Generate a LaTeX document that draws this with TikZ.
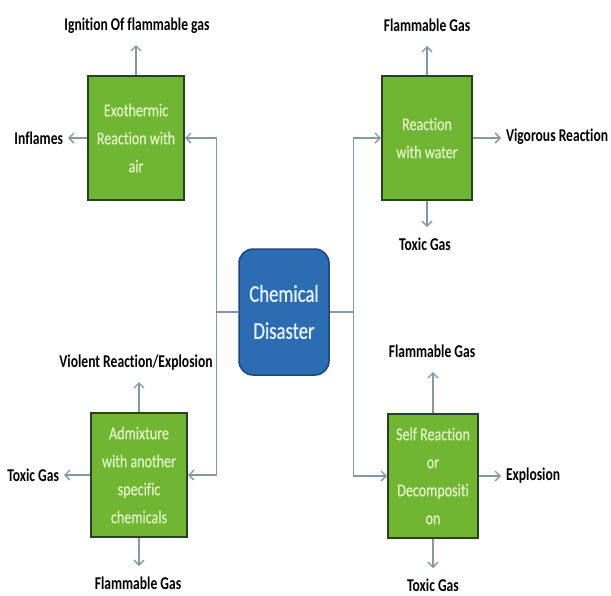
\documentclass[tikz,border=0pt]{standalone}
\usepackage{fontspec}
\setmainfont{Carlito}[FakeStretch=0.78,Ligatures=NoCommon]
\newfontfamily\lblfont{Carlito}[FakeStretch=0.755,Ligatures=NoCommon]
\newfontfamily\boxfont{Carlito}[FakeStretch=0.78,FakeBold=0.8,Ligatures=NoCommon]
\usetikzlibrary{arrows.meta}
\definecolor{boxgreen}{RGB}{112,182,50}
\definecolor{boxgreenline}{RGB}{38,66,34}
\definecolor{boxgreentext}{RGB}{222,242,196}
\definecolor{boxblue}{RGB}{44,108,178}
\definecolor{boxblueline}{RGB}{28,70,124}
\definecolor{bluetext}{RGB}{230,240,248}
\definecolor{conncol}{RGB}{128,152,170}
\tikzset{
  greenbox/.style={draw=boxgreenline, line width=2pt, fill=boxgreen, minimum width=96pt, minimum height=124pt,
    inner sep=0pt, align=center, text=boxgreentext, font=\boxfont\fontsize{18}{28}\selectfont},
  bluebox/.style={draw=boxblueline, line width=1.5pt, fill=boxblue, rounded corners=14pt, minimum width=90pt, minimum height=126pt,
    inner sep=0pt, align=center, text=bluetext, font=\boxfont\fontsize{24}{37}\selectfont},
  lbl/.style={inner sep=0pt, outer xsep=5pt, outer ysep=11pt, text height=12pt, text depth=4pt, font=\lblfont\bfseries\fontsize{18}{20}\selectfont, text=black},
  conn/.style={draw=conncol, line width=1.3pt},
  arr/.style={conn, -{Straight Barb[length=5pt,width=10pt,line width=1.3pt]}}
}
\begin{document}
\begin{tikzpicture}[x=1pt,y=-1pt]
\useasboundingbox[fill=white] (0,0) rectangle (611,595);
% boxes
\node[bluebox] (cd) at (284,312) {Chemical\\Disaster};
\node[greenbox] (ex) at (136,138) {Exothermic\\Reaction with\\air};
\node[greenbox, minimum width=90pt] (rw) at (427,138) {Reaction\\with water};
\node[greenbox] (ad) at (139,475) {Admixture\\with another\\specific\\chemicals};
\node[greenbox, minimum width=90pt] (sr) at (433,476) {Self Reaction\\or\\Decompositi\\on};
% labels
\node[lbl] (ig) at (137,26) {Ignition Of flammable gas};
\node[lbl, anchor=east] (inf) at (68,140) {Inflames};
\node[lbl] (fg1) at (427,27) {Flammable Gas};
\node[lbl, anchor=west] (vig) at (501,137) {Vigorous Reaction};
\node[lbl] (tg1) at (425,246) {Toxic Gas};
\node[lbl] (vio) at (136,363) {Violent Reaction/Explosion};
\node[lbl, anchor=east] (tg2) at (64,477) {Toxic Gas};
\node[lbl] (fg2) at (138,585) {Flammable Gas};
\node[lbl] (fg3) at (432,353) {Flammable Gas};
\node[lbl, anchor=west] (expl) at (501,476) {Explosion};
\node[lbl] (tg3) at (433,587) {Toxic Gas};
% main connectors
\draw[arr] (cd.west) -- ++(-22,0) |- (ex.east);
\draw[arr] (cd.west) -- ++(-22,0) |- (ad.east);
\draw[arr] (cd.east) -- ++(24,0) |- (rw.west);
\draw[arr] (cd.east) -- ++(24,0) |- (sr.west);
% outcome arrows
\draw[arr] (ex.north) -- (ex.north |- ig.south);
\draw[arr] (ex.west) -- (ex.west -| inf.east);
\draw[arr] (rw.north) -- (rw.north |- fg1.south);
\draw[arr] (rw.east) -- (rw.east -| vig.west);
\draw[arr] (rw.south) -- (rw.south |- tg1.north);
\draw[arr] (ad.north) -- (ad.north |- vio.south);
\draw[arr] (ad.west) -- (ad.west -| tg2.east);
\draw[arr] (ad.south) -- (ad.south |- fg2.north);
\draw[arr] (sr.north) -- (sr.north |- fg3.south);
\draw[arr] (sr.east) -- (sr.east -| expl.west);
\draw[arr] (sr.south) -- (sr.south |- tg3.north);
\end{tikzpicture}
\end{document}
